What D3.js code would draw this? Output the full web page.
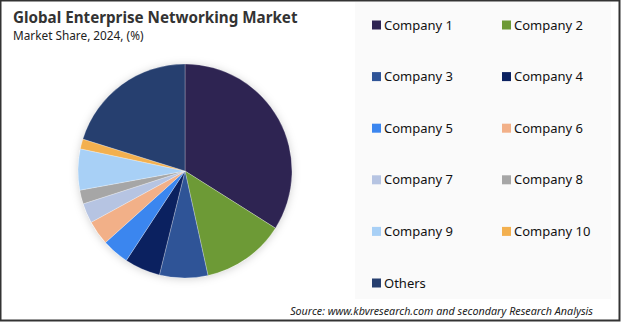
<!DOCTYPE html>
<html>
<head>
<meta charset="utf-8">
<script src="https://cdn.jsdelivr.net/npm/d3@7"></script>
<style>
  body { margin: 0; background: #fff; }
  svg { display: block; font-family: "Noto Sans", "Open Sans", sans-serif; }
</style>
</head>
<body>
<svg id="chart"></svg>
<script>
// data (market share %)
const companies = ["Company 1", "Company 2", "Company 3", "Company 4", "Company 5",
  "Company 6", "Company 7", "Company 8", "Company 9", "Company 10", "Others"];
const shares = [34.0, 12.6, 7.3, 5.4, 4.1, 3.7, 3.0, 2.1, 6.2, 1.5, 20.2];
const colors = ["#2e2452", "#6d9a36", "#2f5497", "#0b2160", "#3b86ef", "#f2b088",
  "#b6c4e2", "#a6a6a6", "#a8d0f6", "#f3b04f", "#263f6f"];

const width = 621, height = 322;

const svg = d3.select("#chart")
  .attr("width", width)
  .attr("height", height);

// soft glow behind the pie
const defs = svg.append("defs");
const filt = defs.append("filter").attr("id", "glow")
  .attr("x", "-20%").attr("y", "-20%").attr("width", "140%").attr("height", "140%");
filt.append("feDropShadow")
  .attr("dx", 0).attr("dy", 1)
  .attr("stdDeviation", 4)
  .attr("flood-color", "#000")
  .attr("flood-opacity", 0.18);

// legend panel background
svg.append("rect")
  .attr("x", 355).attr("y", 2)
  .attr("width", 256).attr("height", 297)
  .attr("fill", "#fafafa");

// title
svg.append("text")
  .attr("x", 13).attr("y", 23)
  .attr("font-size", 15.2).attr("font-weight", "bold")
  .attr("fill", "#333")
  .text("Global Enterprise Networking Market");
svg.append("text")
  .attr("x", 13).attr("y", 40)
  .attr("font-size", 11.8).attr("fill", "#222")
  .text("Market Share, 2024, (%)");

// pie
const color = d3.scaleOrdinal().domain(companies).range(colors);
const pie = d3.pie().sort(null).value(d => d.value);
const arc = d3.arc().innerRadius(0).outerRadius(107);
const pieData = companies.map((c, i) => ({ name: c, value: shares[i] }));

const pieG = svg.append("g")
  .attr("transform", "translate(185,171)");

pieG.append("circle")
  .attr("r", 107)
  .attr("fill", "#fff")
  .attr("filter", "url(#glow)");

pieG.selectAll(".slice")
  .data(pie(pieData))
  .join("path")
  .attr("class", "slice")
  .attr("d", arc)
  .attr("fill", d => color(d.data.name))
  .attr("stroke", "#fff")
  .attr("stroke-opacity", 0.5)
  .attr("stroke-width", 0.5);

// legend: two columns
const legend = svg.append("g").attr("class", "legend");
const item = legend.selectAll(".item")
  .data(companies)
  .join("g")
  .attr("class", "item")
  .attr("transform", (d, i) => `translate(${372 + (i % 2) * 130},${25 + Math.floor(i / 2) * 51.6})`);

item.append("rect")
  .attr("x", 0).attr("y", -4.5)
  .attr("width", 9).attr("height", 9)
  .attr("fill", d => color(d));

item.append("text")
  .attr("x", 12).attr("y", 0)
  .attr("dy", "0.35em")
  .attr("font-size", 13)
  .attr("fill", "#111")
  .text(d => d);

// source note
svg.append("text")
  .attr("x", 593).attr("y", 315)
  .attr("text-anchor", "end")
  .attr("font-size", 10.75)
  .attr("font-style", "italic")
  .attr("fill", "#222")
  .text("Source: www.kbvresearch.com and secondary Research Analysis");

// outer frame
svg.append("rect")
  .attr("x", 0.5).attr("y", 0.5)
  .attr("width", width - 2).attr("height", height - 2)
  .attr("fill", "none")
  .attr("stroke", "#333")
  .attr("stroke-width", 2);
</script>
</body>
</html>
